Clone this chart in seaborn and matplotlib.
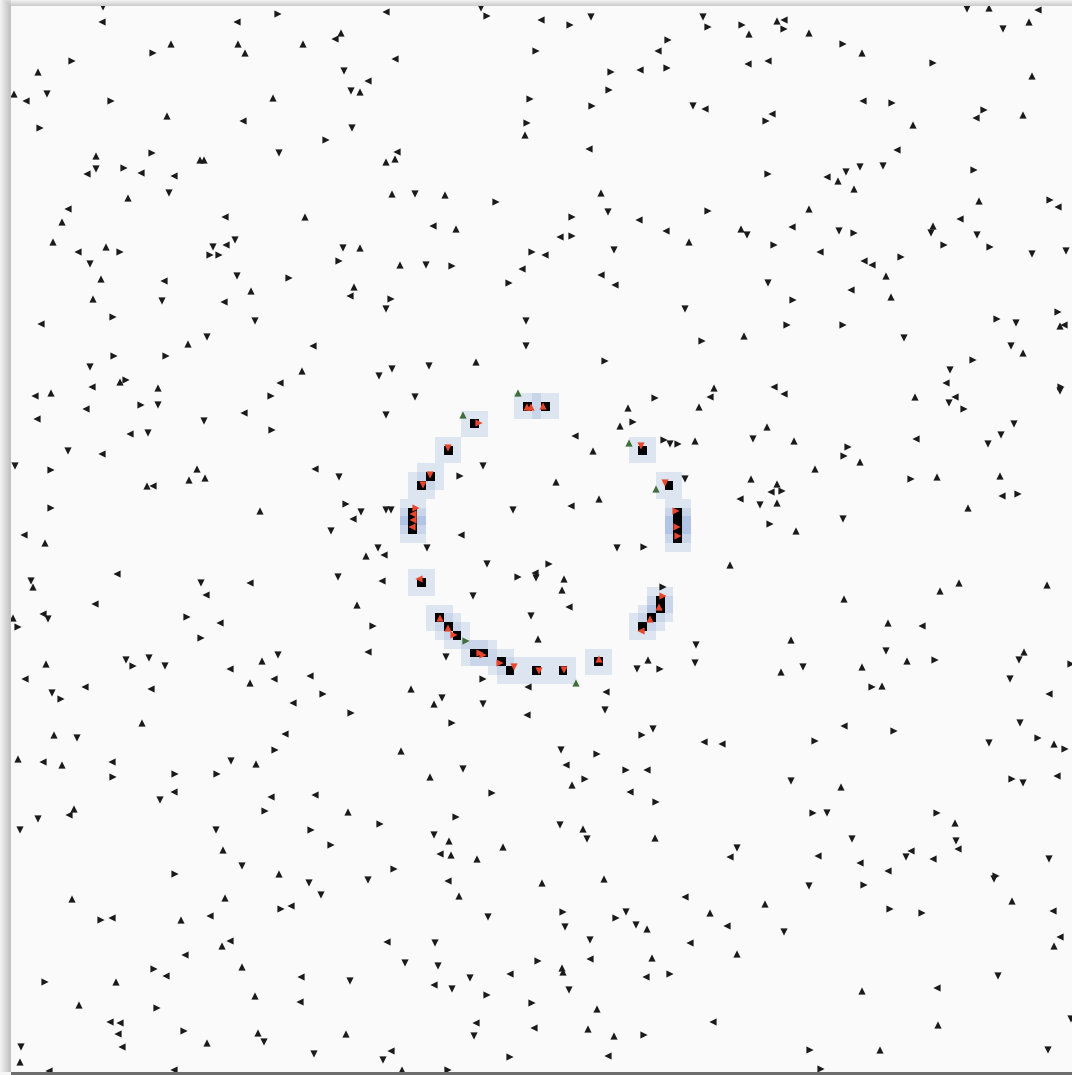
import numpy as np
import pandas as pd
import seaborn as sns
import matplotlib.pyplot as plt
from matplotlib.colors import ListedColormap, BoundaryNorm
from matplotlib.patches import Rectangle

# agent positions (screen units, y down) and heading: u/d/l/r
nw_agents = [
    (103,7,'d'),(102,22,'l'),(237,22,'l'),(278,14,'r'),(386,12,'l'),(481,8,'d'),(487,16,'r'),
    (171,44,'u'),(238,44,'u'),(245,53,'u'),(303,44,'u'),(341,33,'u'),(335,39,'l'),(153,53,'r'),(395,59,'l'),(536,51,'r'),
    (72,61,'r'),(38,72,'u'),(14,94,'u'),(26,101,'l'),(47,94,'d'),(111,101,'r'),(344,71,'d'),(368,81,'l'),(351,91,'d'),
    (360,92,'u'),(273,98,'u'),(530,99,'r'),(167,116,'u'),(243,121,'l'),(40,128,'r'),(352,128,'d'),(527,123,'r'),
    (525,135,'u'),(326,140,'r'),(152,153,'r'),(279,153,'d'),(397,152,'l'),(386,162,'u'),(395,159,'u'),(96,156,'u'),
    (96,169,'d'),(87,174,'l'),(124,168,'r'),(141,173,'l'),(174,176,'l'),(200,160,'u'),(204,160,'u'),
    (169,193,'d'),(128,198,'u'),(392,194,'u'),(415,194,'d'),(445,195,'u'),(496,202,'r'),(68,209,'l'),(62,222,'u'),
    (225,217,'l'),(305,217,'u'),(433,226,'l'),(456,229,'u'),(53,242,'u'),(78,252,'l'),(106,247,'u'),(120,252,'r'),
    (213,247,'d'),(226,245,'l'),(235,240,'d'),(210,255,'r'),(219,255,'r'),(343,248,'d'),(360,248,'u'),(532,252,'r'),
    (90,264,'d'),(339,261,'r'),(400,265,'u'),(426,265,'d'),(452,266,'r'),(522,269,'l'),(101,279,'u'),(164,281,'l'),
    (237,276,'d'),(289,278,'r'),(509,283,'r'),(354,287,'u'),(251,291,'u'),(93,299,'u'),(162,301,'d'),(224,302,'l'),
    (350,296,'l'),(391,299,'r'),(386,309,'d'),(41,324,'l'),(113,317,'r'),(255,321,'d'),(526,321,'d'),
    (188,344,'u'),(207,337,'d'),(313,346,'l'),(526,346,'d'),(114,356,'r'),(166,356,'r'),(90,367,'d'),(302,371,'u'),
    (379,376,'d'),(392,369,'d'),(429,366,'d'),(476,362,'u'),(280,383,'l'),(120,382,'u'),(126,380,'r'),(92,387,'l'),
    (158,388,'u'),(35,396,'l'),(51,393,'u'),(271,396,'r'),(415,397,'d'),(86,409,'l'),(141,405,'r'),(158,405,'d'),
    (244,413,'l'),(37,419,'l'),(204,421,'d'),(386,415,'d'),(272,430,'r'),(130,434,'l'),(148,433,'d'),(68,451,'d'),
    (102,454,'l'),(15,466,'d'),(51,470,'r'),(197,469,'u'),(189,480,'u'),(205,478,'u'),(147,486,'u'),(153,486,'l'),
    (315,469,'l'),(339,477,'d'),(483,466,'d'),(460,476,'r'),(51,508,'r'),(260,511,'u'),(346,504,'r'),(361,512,'d'),
    (353,519,'l'),(386,510,'d'),(391,510,'d'),(513,510,'d'),(24,535,'l'),(331,531,'d'),(461,535,'l'),
]

ne_agents = [
    (541,20,'l'),(570,25,'r'),(591,17,'d'),(703,17,'d'),(708,27,'r'),(742,25,'r'),(749,34,'u'),(777,21,'u'),
    (784,20,'l'),(784,29,'r'),(809,33,'u'),(967,9,'d'),(989,8,'u'),(1038,10,'l'),(1029,22,'u'),(1003,29,'d'),
    (843,44,'r'),(862,53,'u'),(933,63,'r'),(1032,76,'u'),(668,40,'r'),(658,51,'l'),(611,72,'r'),(640,70,'l'),
    (667,68,'r'),(748,64,'l'),(768,61,'l'),(609,90,'r'),(592,106,'r'),(693,106,'d'),(705,109,'l'),(772,114,'l'),
    (766,121,'r'),(863,101,'l'),(892,103,'r'),(913,125,'u'),(984,110,'r'),(976,118,'l'),(1023,115,'u'),
    (589,149,'l'),(897,150,'l'),(768,174,'r'),(827,177,'l'),(838,181,'u'),(846,172,'d'),(860,167,'d'),(883,166,'d'),
    (854,189,'u'),(974,170,'r'),(601,193,'u'),(608,212,'d'),(572,217,'r'),(560,237,'l'),(572,236,'r'),(639,220,'l'),
    (708,211,'r'),(666,231,'l'),(689,242,'u'),(614,250,'d'),(545,255,'l'),(741,229,'u'),(747,235,'d'),(792,227,'l'),
    (774,245,'r'),(809,209,'u'),(839,231,'d'),(854,233,'r'),(820,252,'l'),(933,226,'u'),(931,233,'d'),(960,219,'l'),
    (979,201,'u'),(944,245,'r'),(977,235,'d'),(990,247,'r'),(1050,200,'r'),(1058,207,'l'),(1032,254,'d'),(1066,251,'d'),
    (864,261,'l'),(872,265,'l'),(901,257,'r'),(886,276,'u'),(601,275,'l'),(615,285,'l'),(768,283,'d'),(851,290,'l'),
    (891,297,'u'),(793,300,'r'),(685,309,'d'),(787,325,'r'),(843,325,'r'),(744,336,'u'),(702,341,'r'),(904,338,'d'),
    (997,319,'r'),(1016,323,'d'),(1058,312,'r'),(1060,326,'u'),(1064,325,'l'),(1011,346,'d'),(1023,353,'u'),
    (973,360,'r'),(950,370,'d'),(946,383,'l'),(915,397,'u'),(955,397,'l'),(949,403,'d'),(964,409,'r'),(1061,387,'r'),
    (1060,391,'d'),(605,361,'r'),(714,388,'u'),(710,397,'l'),(774,387,'l'),(784,394,'l'),(655,398,'r'),(628,408,'u'),
    (699,407,'u'),(620,426,'u'),(633,422,'r'),(575,436,'l'),(593,451,'u'),(664,440,'r'),(670,444,'d'),(678,444,'r'),
    (695,441,'u'),(753,439,'d'),(767,427,'u'),(794,441,'u'),(848,447,'r'),(844,456,'r'),(860,462,'u'),(815,469,'u'),
    (916,439,'l'),(1014,424,'d'),(1001,435,'d'),(988,444,'d'),(556,482,'u'),(571,506,'l'),(599,499,'u'),(685,479,'d'),
    (751,479,'u'),(740,499,'l'),(760,505,'d'),(777,484,'u'),(771,492,'l'),(782,491,'r'),(777,503,'u'),(911,479,'r'),
    (937,477,'u'),(1000,476,'u'),(1002,496,'l'),(1018,494,'r'),(968,508,'u'),(770,524,'r'),(796,531,'u'),(843,519,'d'),
]

sw_agents = [
    (45,543,'u'),(378,548,'d'),(366,556,'u'),(384,555,'l'),(427,548,'d'),(117,574,'l'),(201,583,'d'),(250,583,'l'),
    (206,595,'l'),(338,577,'d'),(382,581,'l'),(487,564,'d'),(518,577,'r'),(535,573,'l'),(536,578,'d'),(473,596,'d'),
    (31,581,'d'),(33,587,'u'),(95,604,'l'),(13,618,'u'),(18,627,'r'),(43,614,'l'),(48,619,'d'),(187,617,'r'),
    (220,623,'l'),(201,638,'r'),(357,605,'u'),(373,626,'r'),(531,616,'d'),(538,639,'u'),(368,652,'l'),(446,657,'d'),
    (46,664,'u'),(126,660,'d'),(133,666,'r'),(149,658,'d'),(165,666,'d'),(278,655,'d'),(262,661,'u'),(230,669,'l'),
    (25,679,'l'),(52,693,'d'),(61,699,'r'),(85,687,'l'),(151,689,'l'),(250,683,'u'),(274,679,'l'),(310,676,'l'),
    (323,694,'r'),(293,703,'l'),(411,689,'u'),(442,698,'d'),(434,704,'u'),(483,679,'r'),(483,704,'d'),(528,687,'l'),
    (527,715,'l'),(351,713,'r'),(452,723,'r'),(142,723,'u'),(54,735,'u'),(77,738,'d'),(285,734,'l'),(275,750,'r'),
    (401,751,'u'),(18,759,'u'),(43,762,'l'),(62,765,'u'),(112,762,'l'),(113,777,'r'),(175,774,'r'),(217,774,'r'),
    (231,761,'d'),(256,764,'u'),(430,777,'u'),(463,769,'d'),(174,792,'l'),(160,800,'d'),(271,797,'l'),(265,811,'r'),
    (315,795,'l'),(492,793,'r'),(74,809,'u'),(69,815,'l'),(38,819,'d'),(20,830,'d'),(216,830,'d'),(311,830,'r'),
    (348,812,'u'),(380,824,'r'),(456,817,'r'),(434,835,'d'),(449,841,'u'),(440,854,'l'),(451,855,'u'),(477,859,'u'),
    (503,847,'u'),(223,850,'u'),(331,845,'r'),(242,866,'d'),(279,874,'u'),(309,883,'d'),(321,895,'d'),(368,880,'d'),
    (394,869,'r'),(448,881,'l'),(459,896,'u'),(175,874,'r'),(72,899,'u'),(225,898,'u'),(281,909,'r'),(291,906,'l'),
    (101,920,'r'),(112,918,'l'),(181,920,'u'),(210,916,'l'),(488,917,'d'),(230,941,'l'),(222,946,'u'),(185,955,'l'),
    (387,942,'l'),(435,943,'d'),(242,967,'u'),(154,969,'r'),(166,976,'l'),(405,963,'d'),(438,966,'d'),(470,978,'d'),
    (510,974,'l'),(538,961,'r'),(45,982,'r'),(116,982,'u'),(301,977,'l'),(350,981,'d'),(434,985,'l'),(452,989,'d'),
    (79,1005,'u'),(157,1008,'r'),(255,996,'u'),(300,1002,'l'),(487,995,'r'),(532,1003,'r'),(110,1022,'l'),
    (120,1023,'l'),(118,1034,'l'),(184,1031,'r'),(258,1033,'u'),(264,1042,'d'),(346,1034,'u'),(476,1023,'l'),
    (474,1036,'d'),(534,1028,'l'),(21,1047,'d'),(20,1062,'u'),(122,1047,'l'),(207,1043,'u'),(314,1054,'d'),
    (391,1051,'l'),(383,1060,'d'),(510,1057,'r'),(49,1071,'l'),(174,1070,'l'),(402,1070,'u'),(448,1070,'r'),
]

se_agents = [
    (617,548,'d'),(644,547,'r'),(549,564,'r'),(564,579,'u'),(562,590,'u'),(569,607,'l'),(730,565,'u'),(663,587,'r'),
    (696,645,'d'),(695,663,'d'),(648,660,'u'),(637,669,'d'),(660,669,'r'),(606,692,'l'),(605,710,'d'),(844,599,'u'),
    (791,640,'u'),(803,667,'d'),(781,672,'u'),(940,591,'u'),(959,583,'u'),(1047,585,'u'),(1071,664,'r'),(888,623,'u'),
    (922,626,'l'),(886,651,'d'),(907,661,'u'),(935,660,'r'),(862,667,'u'),(872,687,'r'),(882,686,'u'),(1024,652,'u'),
    (1019,660,'d'),(1010,679,'d'),(1049,694,'l'),(653,729,'d'),(642,735,'r'),(704,742,'l'),(722,744,'l'),(815,741,'r'),
    (844,726,'l'),(894,731,'r'),(1020,723,'d'),(989,743,'d'),(1038,738,'r'),(1054,744,'u'),(1065,749,'r'),
    (561,750,'d'),(597,754,'r'),(566,765,'l'),(626,770,'r'),(647,770,'l'),(585,779,'r'),(572,785,'u'),(630,792,'l'),
    (656,802,'r'),(791,781,'d'),(841,787,'u'),(1012,779,'r'),(1023,783,'d'),(1057,776,'l'),(813,813,'r'),(827,813,'d'),
    (937,813,'r'),(955,823,'u'),(560,825,'d'),(583,829,'u'),(587,839,'d'),(655,838,'u'),(852,839,'d'),(956,841,'d'),
    (958,849,'l'),(911,851,'l'),(906,857,'d'),(933,859,'l'),(1049,859,'d'),(737,848,'d'),(730,857,'l'),(818,856,'l'),
    (860,863,'l'),(888,871,'l'),(996,876,'r'),(994,879,'d'),(542,883,'u'),(604,879,'u'),(809,886,'d'),(864,885,'r'),
    (685,897,'l'),(765,904,'u'),(1012,901,'u'),(563,912,'r'),(626,912,'d'),(616,918,'r'),(636,925,'d'),(647,929,'u'),
    (710,913,'u'),(727,926,'l'),(565,927,'d'),(784,932,'d'),(890,909,'r'),(922,913,'r'),(1053,911,'l'),(1060,937,'l'),
    (1054,946,'u'),(590,940,'d'),(690,943,'l'),(590,959,'l'),(652,958,'u'),(737,954,'u'),(562,968,'u'),(563,972,'u'),
    (646,977,'l'),(670,974,'r'),(569,990,'d'),(998,976,'d'),(862,991,'u'),(937,988,'l'),(597,1009,'u'),(588,1029,'u'),
    (614,1036,'u'),(644,1035,'r'),(713,1022,'l'),(938,1025,'u'),(1071,1019,'d'),(608,1056,'l'),(810,1050,'r'),
    (880,1050,'u'),(1048,1050,'d'),(821,1069,'r'),
]

# agents sitting on the ring (red) and scouts next to it (green)
ring_agents = [
    (527,407,'u'),(531,407,'u'),(543,406,'u'),(479,423,'r'),(448,448,'d'),(430,475,'d'),(423,485,'d'),
    (416,508,'r'),(413,514,'l'),(413,520,'l'),(412,527,'l'),(419,579,'l'),(440,618,'u'),(448,628,'u'),
    (454,635,'r'),(480,653,'r'),(483,655,'r'),(500,663,'r'),(514,667,'d'),(539,671,'d'),(564,670,'d'),
    (599,659,'u'),(676,511,'r'),(677,527,'r'),(678,536,'r'),(665,483,'d'),(641,446,'d'),(663,596,'r'),
    (659,607,'u'),(650,619,'u'),(641,631,'l'),
]
scout_agents = [(518,393,'u'),(463,415,'u'),(629,443,'u'),(656,489,'u'),(466,641,'r'),(576,683,'u')]

# occupied grid cells of the ring (120 x 120 grid)
ring_cols = [58, 60, 52, 49, 47, 46, 45, 45, 45, 46, 48, 49, 50, 52, 53, 55, 56, 59, 62, 66,
             75, 75, 75, 75, 74, 71, 73, 73, 72, 71]
ring_rows = [45, 45, 47, 50, 53, 54, 57, 58, 59, 65, 69, 70, 71, 73, 73, 74, 75, 75, 75, 74,
             57, 58, 59, 60, 54, 50, 67, 68, 69, 70]

W, H = 1072, 1075
n_cells = 120
cell_w, cell_h = 8.83, 8.81
gx0, gy0 = 11, 6

occupied = np.zeros((n_cells, n_cells))
occupied[ring_rows, ring_cols] = 1
padded = np.pad(occupied, 1)
density = sum(padded[1 + dy:1 + dy + n_cells, 1 + dx:1 + dx + n_cells]
              for dy in (-1, 0, 1) for dx in (-1, 0, 1))

frames = []
for kind, agents in [('wander', nw_agents + ne_agents + sw_agents + se_agents),
                     ('scout', scout_agents), ('ring', ring_agents)]:
    frames.append(pd.DataFrame(agents, columns=['x', 'y', 'heading']).assign(kind=kind))
df = pd.concat(frames, ignore_index=True)

sns.set_style('white')
fig = plt.figure(figsize=(W / 100, H / 100), dpi=100, facecolor='#f6f6f6')

# soft shadow on the left and top of the panel
for k in range(1, 12):
    fig.patches.append(Rectangle(((gx0 - k) / W, 3 / H), k / W, (H - 3 - gy0 + k) / H,
                                 transform=fig.transFigure, color='black', alpha=0.02, lw=0))
for k in range(1, 7):
    fig.patches.append(Rectangle((gx0 / W, (H - gy0) / H), 1, k / H,
                                 transform=fig.transFigure, color='black', alpha=0.028, lw=0))
fig.patches.append(Rectangle((gx0 / W, 0), 1, 3 / H, transform=fig.transFigure,
                             color='#6e6e6e', lw=0))

ax = fig.add_axes([gx0 / W, 3 / H, 1 - gx0 / W, (H - 3 - gy0) / H])
ax.set_facecolor('#fafafa')

extent = (gx0, gx0 + n_cells * cell_w, gy0 + n_cells * cell_h, gy0)
blue_cmap = ListedColormap(['#dde5f0', '#c9d6ea', '#b2c4e3', '#9db4dc'])
ax.imshow(np.ma.masked_equal(density, 0), cmap=blue_cmap,
          norm=BoundaryNorm([0.5, 1.5, 2.5, 3.5, 9.5], 4),
          extent=extent, interpolation='nearest', zorder=1)
ax.imshow(np.ma.masked_equal(occupied, 0), cmap=ListedColormap(['#000000']),
          extent=extent, interpolation='nearest', zorder=2)

sns.scatterplot(data=df, x='x', y='y', hue='kind', style='heading',
                palette={'wander': '#1a1a1a', 'scout': '#3f6e3c', 'ring': '#e8472e'},
                markers={'u': '^', 'd': 'v', 'l': '<', 'r': '>'},
                s=27, linewidth=0, legend=False, ax=ax, zorder=3)

ax.set_xlim(gx0, W)
ax.set_ylim(W, gy0)
ax.set_aspect('auto')
ax.set_xticks([])
ax.set_yticks([])
ax.set_xlabel('')
ax.set_ylabel('')
for sp in ax.spines.values():
    sp.set_visible(False)

fig.savefig('out.png', dpi=100, facecolor=fig.get_facecolor())
